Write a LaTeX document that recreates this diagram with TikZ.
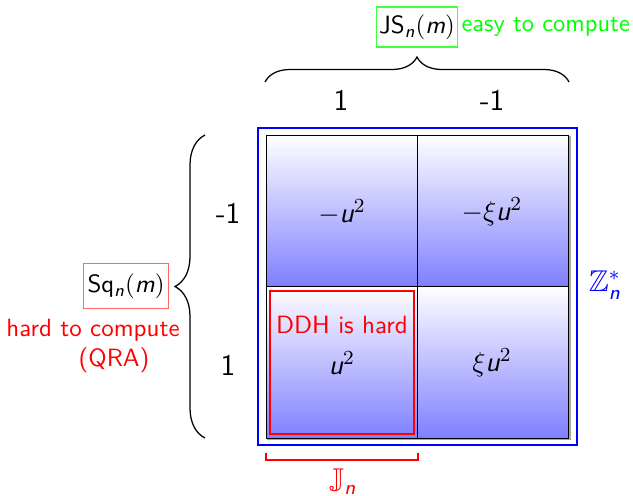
\documentclass[tikz,border=0pt]{standalone}
\usepackage{amsmath,amssymb}
\usetikzlibrary{decorations.pathreplacing}
\newcommand\sv[1]{\textsf{\itshape #1}}
\tikzset{
  cell/.style={draw=black, line width=0.4pt, top color=white, bottom color=blue!50,
    minimum width=60.4pt, minimum height=60.4pt, inner sep=0pt, font=\sffamily},
  lbl/.style={font=\sffamily\large, inner sep=1pt},
  mth/.style={font=\sffamily\fontsize{11.3}{13}\selectfont},
  bracestyle/.style={decorate, decoration={brace, amplitude=#1}, line width=0.5pt},
}
\begin{document}
\begin{tikzpicture}[x=0.4pt, y=-0.4pt, font=\sffamily]
\useasboundingbox (0,0) rectangle (633,495);
% outer blue frame
\node[draw=blue, line width=0.8pt, minimum width=127.6pt, minimum height=126.8pt, inner sep=0pt] (frame) at (417.5,286.5) {};
% shadow
\draw[gray!70, line width=0.5pt] (570,136) -- (570,439) -- (267,439);
% cells
\node[cell] (c11) at (341.5,210.5) {};
\node[cell] (c12) at (493,210.5) {};
\node[cell, minimum height=60.8pt] (c21) at (341.5,362) {};
\node[cell, minimum height=60.8pt] (c22) at (493,362) {};
\node[mth] (t11) at (342,212) {$-\sv{u}^2$};
\node[mth] (t12) at (492,212) {$-\xi\sv{u}^2$};
\node[mth] (t21) at (342,363) {$\sv{u}^2$};
\node[mth] (t22) at (492,363) {$\xi\sv{u}^2$};
% red DDH box
\node[draw=red, line width=1pt, minimum width=57.6pt, minimum height=57.2pt, inner sep=0pt] (ddh) at (342,362.5) {};
\node[red] (ddht) at (342,325) {DDH is hard};
% column / row labels
\node[lbl] (col1) at (341,100) {1};
\node[lbl] (col2) at (492,100) {-1};
\node[lbl] (row1) at (228,213) {-1};
\node[lbl] (row2) at (228,365) {1};
% top brace
\coordinate (tb1) at (265,82);
\coordinate (tb2) at (569,82);
\draw[bracestyle=10pt] (tb1) -- (tb2);
\node[draw=green!75, line width=0.5pt, inner xsep=1pt, inner ysep=3pt, font=\sffamily\fontsize{10}{12}\selectfont] (js) at (417,27) {JS$_{\sv{n}}(\sv{m})$};
\node[green, anchor=west, inner sep=0pt, font=\sffamily\fontsize{9.8}{12}\selectfont] (easy) at (461,27) {easy to compute};
% left brace
\coordinate (lb1) at (205,438);
\coordinate (lb2) at (205,135);
\draw[bracestyle=12pt] (lb1) -- (lb2);
\node[draw=red!60, line width=0.5pt, inner xsep=1.5pt, inner ysep=4pt, font=\sffamily\fontsize{10}{12}\selectfont] (sq) at (126,286) {Sq$_{\sv{n}}(\sv{m})$};
\node[red, inner sep=0pt] (hard) at (93,330) {hard to compute};
\node[red, inner sep=0pt] (qra) at (114,360) {(QRA)};
% Z_n^*
\node[blue, font=\large] (zn) at (605,285) {$\mathbb{Z}_{\sv{n}}^{*}$};
% bottom bracket
\coordinate (bb1) at (266,453);
\coordinate (bb2) at (418,453);
\draw[red, line width=0.6pt] (bb1) -- ++(0,7) -| (bb2);
\node[red, font=\large] (jn) at (343,482) {$\mathbb{J}_{\sv{n}}$};
\end{tikzpicture}
\end{document}
